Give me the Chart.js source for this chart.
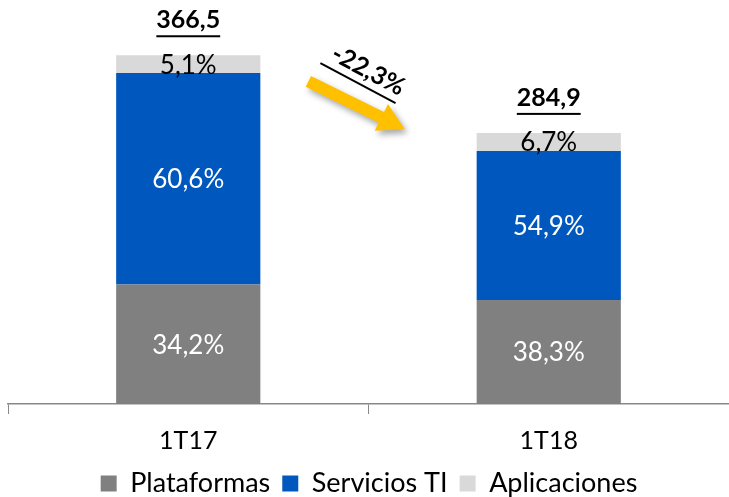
<!DOCTYPE html>
<html lang="es">
<head>
    <meta charset="UTF-8">
    <title>Ingresos por segmento</title>
    <script src="https://cdn.jsdelivr.net/npm/chart.js"></script>
    <style>
        body { margin: 0; background: #fff; }
        #wrap { width: 729px; height: 497px; }
    </style>
</head>
<body>
    <div id="wrap"><canvas id="chart"></canvas></div>

    <script>
        // Data
        const periods = ['1T17', '1T18'];
        const totals = [366.5, 284.9];
        const plataformasPct = [34.2, 38.3];
        const serviciosPct = [60.6, 54.9];
        const aplicacionesPct = [5.1, 6.7];
        const changeLabel = '-22,3%';

        const FONT = 'Lato, "DejaVu Sans", sans-serif';
        const fmt = v => v.toFixed(1).replace('.', ',');

        // absolute values for the stacked bars
        const toAbs = pcts => pcts.map((p, i) => totals[i] * p / 100);

        // draws percentages inside segments, totals on top and the arrow
        const labelsPlugin = {
            id: 'labelsPlugin',
            afterDatasetsDraw(chart) {
                const ctx = chart.ctx;
                ctx.save();
                ctx.textAlign = 'center';
                ctx.textBaseline = 'middle';
                chart.data.datasets.forEach((ds, di) => {
                    const meta = chart.getDatasetMeta(di);
                    meta.data.forEach((bar, i) => {
                        const mid = (bar.y + bar.base) / 2;
                        ctx.font = '26px ' + FONT;
                        ctx.fillStyle = di === 2 ? '#000' : '#fff';
                        ctx.fillText(fmt(ds.pcts[i]) + '%', bar.x, mid + 1);
                    });
                });

                // totals above each bar
                const topMeta = chart.getDatasetMeta(2);
                topMeta.data.forEach((bar, i) => {
                    const txt = fmt(totals[i]);
                    const y = bar.y - 35;
                    ctx.font = 'bold 25px ' + FONT;
                    ctx.fillStyle = '#000';
                    ctx.fillText(txt, bar.x, y);
                    const w = ctx.measureText(txt).width;
                    ctx.fillRect(bar.x - w / 2, y + 15, w, 2);
                });

                // arrow between the two bars
                const b1 = topMeta.data[0], b2 = topMeta.data[1];
                const x0 = b1.x + b1.width / 2 + 48, y0 = b1.y + 26;
                const x1 = b2.x - b2.width / 2 - 72, y1 = b2.y - 4;
                const ang = Math.atan2(y1 - y0, x1 - x0);
                const len = Math.hypot(x1 - x0, y1 - y0);
                ctx.save();
                ctx.translate(x0, y0);
                ctx.rotate(ang);
                ctx.shadowColor = 'rgba(0,0,0,0.35)';
                ctx.shadowBlur = 6;
                ctx.shadowOffsetX = 3;
                ctx.shadowOffsetY = 4;
                ctx.fillStyle = '#FFC000';
                ctx.beginPath();
                ctx.moveTo(0, -6);
                ctx.lineTo(len - 26, -6);
                ctx.lineTo(len - 26, -15);
                ctx.lineTo(len, 0);
                ctx.lineTo(len - 26, 15);
                ctx.lineTo(len - 26, 6);
                ctx.lineTo(0, 6);
                ctx.closePath();
                ctx.fill();
                ctx.restore();

                // rotated change label above the arrow
                ctx.translate((x0 + x1) / 2, (y0 + y1) / 2);
                ctx.rotate(0.49);
                ctx.font = 'bold 25px ' + FONT;
                ctx.fillStyle = '#000';
                ctx.fillText(changeLabel, -6, -36);
                const w = ctx.measureText(changeLabel).width;
                ctx.fillRect(-6 - w / 2 - 6, -21, w + 6, 2);
                ctx.restore();
            }
        };

        new Chart(document.getElementById('chart'), {
            type: 'bar',
            data: {
                labels: periods,
                datasets: [
                    { label: 'Plataformas', data: toAbs(plataformasPct), pcts: plataformasPct, backgroundColor: '#808080' },
                    { label: 'Servicios TI', data: toAbs(serviciosPct), pcts: serviciosPct, backgroundColor: '#0058BE' },
                    { label: 'Aplicaciones', data: toAbs(aplicacionesPct), pcts: aplicacionesPct, backgroundColor: '#D9D9D9' }
                ]
            },
            options: {
                responsive: true,
                maintainAspectRatio: false,
                animation: false,
                layout: { padding: { left: 8, right: -1, top: 23, bottom: -10 } },
                datasets: { bar: { categoryPercentage: 0.8, barPercentage: 0.5 } },
                scales: {
                    x: {
                        stacked: true,
                        grid: { display: true, drawOnChartArea: false, offset: true, tickLength: 10, color: '#888' },
                        border: { color: '#888', width: 1.5 },
                        ticks: { color: '#000', font: { family: FONT, size: 25 }, padding: 12 },
                        // let the labels sit closer to the legend
                        afterFit: scale => { scale.height -= 10; }
                    },
                    y: { stacked: true, display: false, min: 0, max: 400 }
                },
                plugins: {
                    legend: {
                        position: 'bottom',
                        labels: {
                            color: '#000',
                            font: { family: FONT, size: 27 },
                            boxWidth: 16, boxHeight: 16, padding: 12
                        }
                    },
                    tooltip: { enabled: false }
                }
            },
            plugins: [labelsPlugin]
        });
    </script>
</body>
</html>
